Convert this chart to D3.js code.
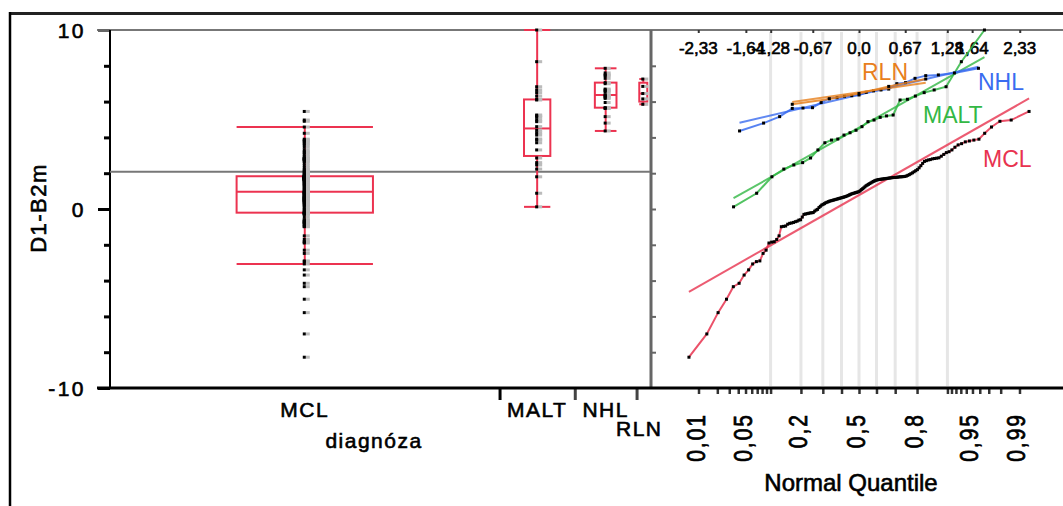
<!DOCTYPE html>
<html>
<head>
<meta charset="utf-8">
<script src="https://cdn.jsdelivr.net/npm/d3@7"></script>
<style>
  html, body { margin: 0; padding: 0; background: #fff; }
  svg { display: block; }
  text { font-family: "Liberation Sans", Arial, sans-serif; fill: #000; }
  text.ink { stroke: #000; stroke-width: 0.6px; }
</style>
</head>
<body>
<svg id="chart" width="1063" height="506"></svg>
<script>
// ---- data: D1-B2m by diagnosis ----
const groups = ["MCL", "MALT", "NHL", "RLN"];
const groupColors = ["#e8334f", "#33b845", "#3a6cf0", "#e8801c"];

const mclValues = [
  -8.28, -6.98, -5.79, -5.04, -4.34, -4.15, -3.69, -3.4, -3.07, -2.94,
  -2.9, -2.48, -2.3, -1.9, -1.85, -1.83, -1.7, -1.5, -0.99, -0.97,
  -0.95, -0.85, -0.8, -0.78, -0.75, -0.71, -0.68, -0.62, -0.6, -0.45,
  -0.3, -0.28, -0.26, -0.24, -0.22, -0.21, -0.2, -0.12, -0.06, -0.02,
  0.08, 0.15, 0.22, 0.26, 0.3, 0.35, 0.38, 0.41, 0.44, 0.46,
  0.48, 0.5, 0.52, 0.54, 0.56, 0.58, 0.6, 0.62, 0.64, 0.66,
  0.68, 0.7, 0.73, 0.76, 0.79, 0.82, 0.85, 0.87, 0.89, 0.91,
  0.93, 0.95, 0.97, 1.02, 1.08, 1.13, 1.18, 1.24, 1.3, 1.34,
  1.38, 1.42, 1.46, 1.5, 1.54, 1.57, 1.6, 1.62, 1.64, 1.65,
  1.66, 1.67, 1.68, 1.69, 1.7, 1.71, 1.72, 1.73, 1.74, 1.75,
  1.76, 1.76, 1.77, 1.78, 1.79, 1.8, 1.8, 1.81, 1.82, 1.84,
  1.88, 1.92, 1.97, 2.02, 2.08, 2.14, 2.2, 2.3, 2.42, 2.55,
  2.66, 2.7, 2.74, 2.76, 2.8, 2.82, 2.84, 2.86, 2.95, 3.05,
  3.15, 3.2, 3.3, 3.45, 3.58, 3.65, 3.75, 3.8, 3.85, 3.9,
  4.23, 4.58, 4.9, 4.97, 5.45
];
const maltValues = [
  0.12, 0.88, 1.8, 2.23, 2.46, 2.59, 2.85, 3.3, 3.7, 3.85,
  3.91, 4.13, 4.26, 4.4, 4.6, 4.88, 4.97, 5.12, 5.2, 5.25,
  6.09, 6.13, 6.31, 6.5, 6.65, 6.83, 8.23, 10.0
];
const nhlValues = [
  4.36, 4.8, 5.16, 5.62, 5.64, 5.66, 5.95, 6.18, 6.22, 6.3,
  6.33, 6.37, 6.52, 6.6, 6.65, 6.7, 7.0, 7.06, 7.3, 7.45,
  7.49, 7.6, 7.86
];
const rlnValues = [5.85, 6.15, 6.45, 6.85, 7.26];

const yTickValues = [-10, -8, -6, -4, -2, 0, 2, 4, 6, 8, 10];
const yTickLabels = ["-10", "", "", "", "", "0", "", "", "", "", "10"];
const zTickValues = [-2.33, -1.64, -1.28, -0.67, 0, 0.67, 1.28, 1.64, 2.33];
const zTickLabels = ["-2,33", "-1,64", "-1,28", "-0,67", "0,0", "0,67", "1,28", "1,64", "2,33"];
const probGrid = [0.1, 0.2, 0.3, 0.4, 0.5, 0.6, 0.7, 0.8, 0.9];
const probTicks = [0.01, 0.02, 0.03, 0.04, 0.05, 0.06, 0.07, 0.08, 0.09,
  0.1, 0.2, 0.3, 0.4, 0.5, 0.6, 0.7, 0.8, 0.9,
  0.91, 0.92, 0.93, 0.94, 0.95, 0.96, 0.97, 0.98, 0.99];
const probLabelValues = [0.01, 0.05, 0.2, 0.5, 0.8, 0.95, 0.99];
const probLabels = ["0,01", "0,05", "0,2", "0,5", "0,8", "0,95", "0,99"];

const valuesByGroup = [mclValues, maltValues, nhlValues, rlnValues];

// ---- helpers ----
// inverse standard normal CDF (Acklam)
function probit(p) {
  const a = [-3.969683028665376e+01, 2.209460984245205e+02, -2.759285104469687e+02, 1.383577518672690e+02, -3.066479806614716e+01, 2.506628277459239e+00];
  const b = [-5.447609879822406e+01, 1.615858368580409e+02, -1.556989798598866e+02, 6.680131188771972e+01, -1.328068155288572e+01];
  const c = [-7.784894002430293e-03, -3.223964580411365e-01, -2.400758277161838e+00, -2.549732539343734e+00, 4.374664141464968e+00, 2.938163982698783e+00];
  const d = [7.784695709041462e-03, 3.224671290700398e-01, 2.445134137142996e+00, 3.754408661907416e+00];
  const pl = 0.02425, ph = 1 - pl;
  if (p < pl) {
    const q = Math.sqrt(-2 * Math.log(p));
    return (((((c[0]*q+c[1])*q+c[2])*q+c[3])*q+c[4])*q+c[5]) / ((((d[0]*q+d[1])*q+d[2])*q+d[3])*q+1);
  }
  if (p > ph) {
    const q = Math.sqrt(-2 * Math.log(1 - p));
    return -(((((c[0]*q+c[1])*q+c[2])*q+c[3])*q+c[4])*q+c[5]) / ((((d[0]*q+d[1])*q+d[2])*q+d[3])*q+1);
  }
  const q = p - 0.5, r = q * q;
  return (((((a[0]*r+a[1])*r+a[2])*r+a[3])*r+a[4])*r+a[5])*q / (((((b[0]*r+b[1])*r+b[2])*r+b[3])*r+b[4])*r+1);
}
// quantile at position p(n+1)
function quantileN1(sorted, p) {
  const n = sorted.length;
  const h = p * (n + 1) - 1;
  if (h <= 0) return sorted[0];
  if (h >= n - 1) return sorted[n - 1];
  const lo = Math.floor(h);
  return sorted[lo] + (h - lo) * (sorted[lo + 1] - sorted[lo]);
}

// ---- scales ----
const svg = d3.select("#chart");
const plotTop = 30, plotBottom = 388, plotLeft = 110, split = 651;
const y = d3.scaleLinear().domain([-10, 10]).range([plotBottom, plotTop]);
const counts = valuesByGroup.map(v => v.length);
const total = d3.sum(counts);
const starts = counts.map((c, i) => d3.sum(counts.slice(0, i)));
const xCount = d3.scaleLinear().domain([0, total]).range([plotLeft, 650]);
const zx = d3.scaleLinear().domain([-3.015, 3.015]).range([split, 1067]);

// ---- outer frame ----
svg.append("line").attr("x1", 10).attr("x2", 1063).attr("y1", 13.5).attr("y2", 13.5)
  .attr("stroke", "#222").attr("stroke-width", 3);
svg.append("line").attr("x1", 10).attr("x2", 10).attr("y1", 12).attr("y2", 506)
  .attr("stroke", "#000").attr("stroke-width", 2.5);

// ---- normal quantile grid ----
const nq = svg.append("g");
nq.selectAll("line.grid").data(probGrid).join("line")
  .attr("x1", p => zx(probit(p))).attr("x2", p => zx(probit(p)))
  .attr("y1", plotTop + 2).attr("y2", plotBottom - 2)
  .attr("stroke", "#e6e6e6").attr("stroke-width", 3);

// ---- frame lines ----
svg.append("line").attr("x1", 97).attr("x2", 1063).attr("y1", plotTop).attr("y2", plotTop)
  .attr("stroke", "#777").attr("stroke-width", 2);
svg.append("line").attr("x1", split).attr("x2", split).attr("y1", plotTop).attr("y2", plotBottom)
  .attr("stroke", "#666").attr("stroke-width", 3);

// ---- y axis ----
const yMinor = svg.append("g").attr("transform", `translate(${plotLeft},0)`)
  .call(d3.axisLeft(y).tickValues(yTickValues).tickSize(6).tickFormat(""));
yMinor.select(".domain").remove();
yMinor.selectAll(".tick line").attr("stroke", "#000").attr("stroke-width", 3);
const yMajor = svg.append("g").attr("transform", `translate(${plotLeft},0)`)
  .call(d3.axisLeft(y).tickValues([-10, 0, 10]).tickSize(12).tickPadding(12)
    .tickFormat(v => yTickLabels[yTickValues.indexOf(v)]));
yMajor.select(".domain").remove();
yMajor.selectAll(".tick line").attr("stroke", v => v === 10 ? "#666" : "#000").attr("stroke-width", 3);
yMajor.selectAll(".tick text").attr("class", "ink").attr("font-size", 21).attr("letter-spacing", 2.5)
  .attr("font-family", "Liberation Sans, Arial, sans-serif").attr("fill", "#000").attr("dy", "0.36em");

// ticks on the quantile panel's left edge
const yRight = svg.append("g").attr("transform", `translate(${split + 1},0)`)
  .call(d3.axisRight(y).tickValues(yTickValues.slice(1, -1)).tickSize(4).tickFormat(""));
yRight.select(".domain").remove();
yRight.selectAll(".tick line").attr("stroke", "#666").attr("stroke-width", 2);

svg.append("line").attr("x1", plotLeft).attr("x2", plotLeft).attr("y1", plotTop).attr("y2", plotBottom)
  .attr("stroke", "#000").attr("stroke-width", 2);

// y title
svg.append("text").attr("class", "ink").attr("transform", `translate(46,208) rotate(-90)`)
  .attr("text-anchor", "middle").attr("font-size", 22).attr("letter-spacing", 1.5)
  .text("D1-B2m");

// ---- grand mean ----
const allValues = valuesByGroup.flat();
const grandMean = d3.mean(allValues);
svg.append("line").attr("x1", plotLeft).attr("x2", 650)
  .attr("y1", y(grandMean)).attr("y2", y(grandMean))
  .attr("stroke", "#777").attr("stroke-width", 2);

// ---- box plots per group ----
const boxG = svg.append("g");
groups.forEach((g, i) => {
  const vals = valuesByGroup[i].slice().sort(d3.ascending);
  const x0 = xCount(starts[i]), x1 = xCount(starts[i] + counts[i]);
  const cx = (x0 + x1) / 2;
  const bw = Math.max(8, (x1 - x0) * 0.35);
  const q1 = quantileN1(vals, 0.25), med = quantileN1(vals, 0.5), q3 = quantileN1(vals, 0.75);
  const iqr = q3 - q1;
  const lo = d3.min(vals.filter(v => v >= q1 - 1.5 * iqr));
  const hi = d3.max(vals.filter(v => v <= q3 + 1.5 * iqr));
  const col = "#ec3350";
  boxG.append("line").attr("x1", cx).attr("x2", cx).attr("y1", y(hi)).attr("y2", y(lo))
    .attr("stroke", col).attr("stroke-width", 2);
  boxG.append("rect").attr("x", cx - bw / 2).attr("y", y(q3))
    .attr("width", bw).attr("height", y(q1) - y(q3))
    .attr("fill", "#fff").attr("stroke", col).attr("stroke-width", 2);
  [med, hi, lo].forEach(v => {
    boxG.append("line").attr("x1", cx - bw / 2).attr("x2", cx + bw / 2)
      .attr("y1", y(v)).attr("y2", y(v)).attr("stroke", col).attr("stroke-width", 2);
  });
  // data points
  const pts = boxG.append("g");
  pts.selectAll("rect.sh").data(vals).join("rect")
    .attr("x", cx + 1).attr("y", v => y(v) - 1.5).attr("width", 4).attr("height", 3)
    .attr("fill", "#bbb");
  pts.selectAll("rect.pt").data(vals).join("rect")
    .attr("x", cx - 2).attr("y", v => y(v) - 1.5).attr("width", 3).attr("height", 3)
    .attr("fill", "#000");
});

// ---- bottom axis (category boundaries) ----
const xAxisG = svg.append("g").attr("transform", `translate(0,${plotBottom})`)
  .call(d3.axisBottom(xCount).tickValues(starts.slice(1)).tickSize(12).tickFormat(""));
xAxisG.select(".domain").remove();
xAxisG.selectAll(".tick line").attr("stroke", (d, i) => i === 0 ? "#000" : "#444").attr("stroke-width", 3);

// category labels, staggered when they collide
let prevRight = -Infinity, prevRow = 0;
groups.forEach((g, i) => {
  const cx = xCount(starts[i] + counts[i] / 2);
  const t = svg.append("text").attr("class", "ink").attr("x", cx).attr("y", 417)
    .attr("text-anchor", "middle").attr("font-size", 21).attr("letter-spacing", 1.5).text(g);
  const w = t.node().getComputedTextLength();
  let row = 0;
  if (cx - w / 2 < prevRight && prevRow === 0) row = 1;
  t.attr("y", 417 + row * 19).attr("x", cx + (row ? -4 : 0));
  prevRight = cx + w / 2; prevRow = row;
});
svg.append("text").attr("class", "ink").attr("x", 374).attr("y", 448).attr("text-anchor", "middle")
  .attr("font-size", 21).attr("letter-spacing", 1.5).text("diagnóza");

// ---- normal quantile plot ----
const zTop = svg.append("g").attr("transform", `translate(0,${plotTop})`)
  .call(d3.axisBottom(zx).tickValues(zTickValues).tickSize(3).tickFormat(""));
zTop.select(".domain").remove();
zTop.selectAll(".tick line").attr("stroke", "#333").attr("stroke-width", 2);
svg.append("g").selectAll("text").data(zTickValues).join("text")
  .attr("class", "ink")
  .attr("x", z => zx(z)).attr("y", 54).attr("text-anchor", "middle")
  .attr("font-size", 17).text((z, i) => zTickLabels[i]);

const zBottom = svg.append("g").attr("transform", `translate(0,${plotBottom + 1})`)
  .call(d3.axisBottom(zx).tickValues(probTicks.map(probit)).tickSize(5).tickFormat(""));
zBottom.select(".domain").remove();
zBottom.selectAll(".tick line").attr("stroke", "#333").attr("stroke-width", 2.5);
svg.append("g").selectAll("text").data(probLabelValues).join("text")
  .attr("class", "ink")
  .attr("transform", p => `translate(${zx(probit(p)) + 6},413) rotate(-90) scale(1,1.25)`)
  .attr("text-anchor", "end").attr("font-size", 21).attr("letter-spacing", 2)
  .text((p, i) => probLabels[i]);
svg.append("text").attr("class", "ink").attr("x", 851).attr("y", 491).attr("text-anchor", "middle")
  .attr("font-size", 24).text("Normal Quantile");

svg.append("line").attr("x1", 97).attr("x2", 1063).attr("y1", plotBottom).attr("y2", plotBottom)
  .attr("stroke", "#000").attr("stroke-width", 3);

const drawOrder = [1, 0, 2, 3];
const nqG = svg.append("g");
drawOrder.forEach(i => {
  const vals = valuesByGroup[i].slice().sort(d3.ascending);
  const n = vals.length;
  const pts = vals.map((v, k) => ({ z: probit((k + 1) / (n + 1)), v }));
  const mean = d3.mean(vals), sd = d3.deviation(vals);
  const col = groupColors[i];
  const zr = d3.extent(pts, d => d.z);
  nqG.append("line").attr("x1", zx(zr[0])).attr("x2", zx(zr[1]))
    .attr("y1", y(mean + sd * zr[0])).attr("y2", y(mean + sd * zr[1]))
    .attr("stroke", col).attr("stroke-width", 2).attr("opacity", 0.8);
  nqG.append("path").datum(pts)
    .attr("d", d3.line().x(d => zx(d.z)).y(d => y(d.v)))
    .attr("fill", "none").attr("stroke", col).attr("stroke-width", 2).attr("opacity", 0.85);
  nqG.append("g").selectAll("rect").data(pts).join("rect")
    .attr("x", d => zx(d.z) - 1.5).attr("y", d => y(d.v) - 1.5)
    .attr("width", 3).attr("height", 3).attr("fill", "#000");
});

// group names inside the quantile panel
const nqLabelPos = [[983, 166.7], [923, 122.7], [978, 90], [862, 80]];
groups.forEach((g, i) => {
  svg.append("text").attr("x", nqLabelPos[i][0]).attr("y", nqLabelPos[i][1])
    .attr("font-size", 23).style("fill", groupColors[i]).text(g);
});
</script>
</body>
</html>
